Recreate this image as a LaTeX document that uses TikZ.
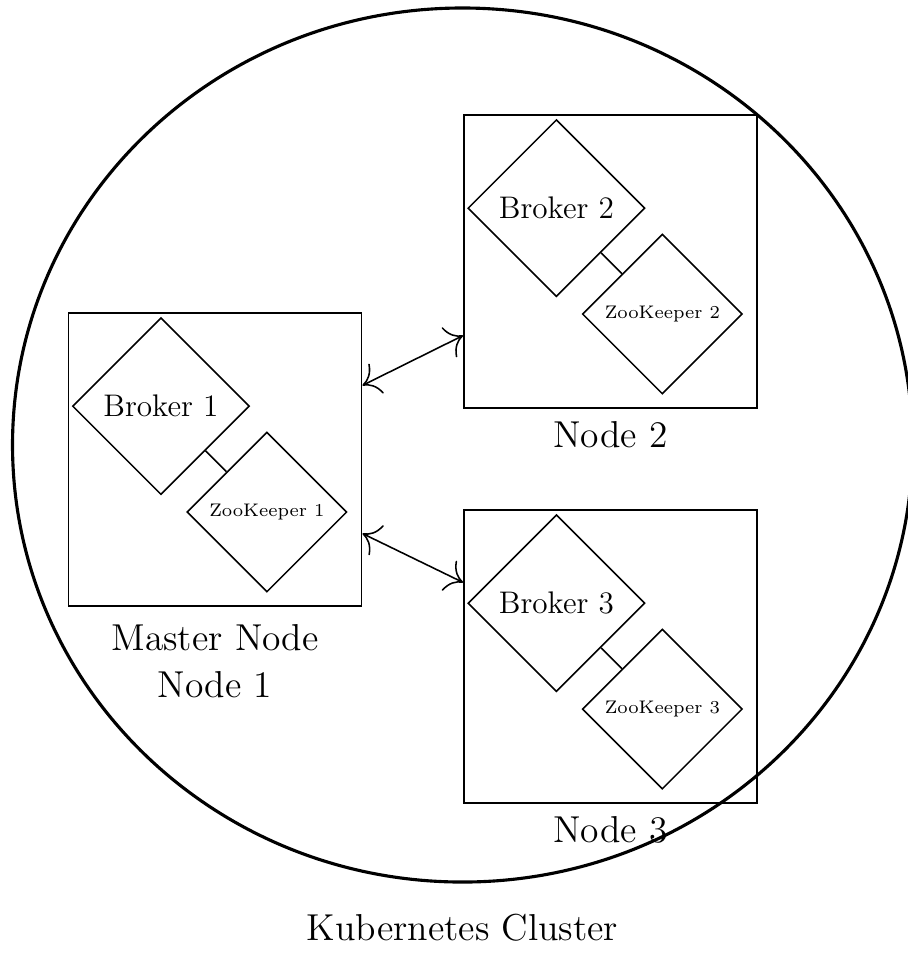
\documentclass[tikz,border=0pt]{standalone}
\usetikzlibrary{arrows,arrows.meta,shapes.geometric,positioning}

\begin{document}
\begin{tikzpicture}[>={To[scale=2.1]},thick,on grid,node distance=1cm]
  \tikzstyle{every node}=[font=\Large]
  \tikzstyle{host}=[draw,semithick,minimum size=3.96cm,align=center]
  \tikzstyle{broker}=[draw,semithick,diamond,aspect=1,minimum size=2.39cm,inner sep=0pt,font=\large]
  \tikzstyle{zk}=[draw,semithick,diamond,aspect=1,minimum size=2.16cm,inner sep=0pt,font=\scriptsize]

  \useasboundingbox (0,0) rectangle (12.258,-12.947);

  % cluster
  \node[draw,ellipse,very thick,minimum width=12.15cm,minimum height=11.8cm,inner sep=0pt,
        label={[yshift=-8pt]below:Kubernetes Cluster}] (K) at (6.244,-6.008) {};

  % hosts
  \node[host,label={[yshift=-3pt,align=center]below:Master Node\\Node 1}] (M) at (2.903,-6.203) {};
  \node[host,label={[yshift=-1pt]below:Node 2}] (N2) at (8.242,-3.530) {};
  \node[host,label={[yshift=-1pt]below:Node 3}] (N3) at (8.242,-8.863) {};

  % brokers and zookeepers
  \node[broker,above left=0.72cm and 0.73cm of M]  (B1) {Broker 1};
  \node[zk,below right=0.71cm and 0.70cm of M]     (Z1) {ZooKeeper 1};
  \node[broker,above left=0.72cm and 0.73cm of N2] (B2) {Broker 2};
  \node[zk,below right=0.71cm and 0.70cm of N2]    (Z2) {ZooKeeper 2};
  \node[broker,above left=0.72cm and 0.73cm of N3] (B3) {Broker 3};
  \node[zk,below right=0.71cm and 0.70cm of N3]    (Z3) {ZooKeeper 3};

  \draw[semithick] (B1.south east) -- (Z1.north west);
  \draw[semithick] (B2.south east) -- (Z2.north west);
  \draw[semithick] (B3.south east) -- (Z3.north west);

  \draw[<->,semithick] ([yshift=1cm]M.east) -- ([yshift=-1cm]N2.west);
  \draw[<->,semithick] ([yshift=-1cm]M.east) -- ([yshift=1cm]N3.west);
\end{tikzpicture}
\end{document}
